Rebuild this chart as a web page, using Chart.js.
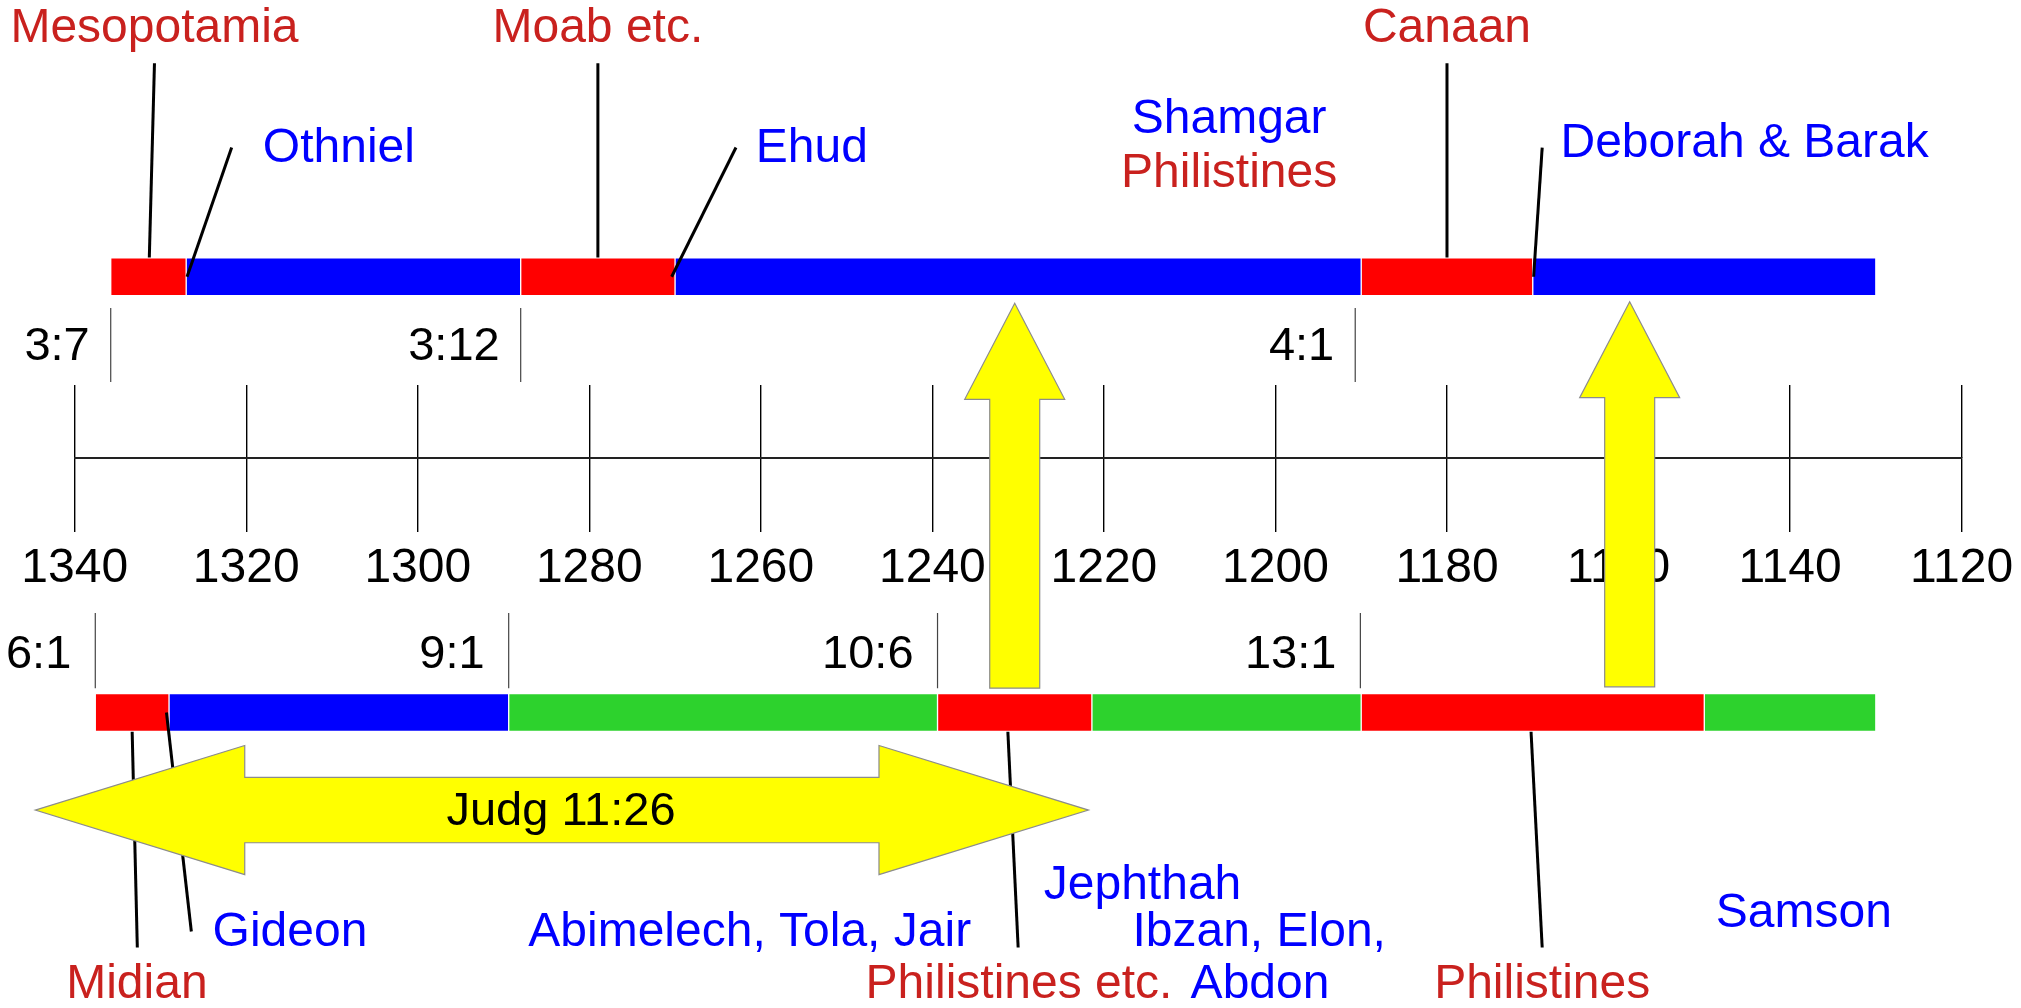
<!DOCTYPE html>
<html lang="en"><head>
<meta charset="utf-8">
<title>Judges timeline</title>
<style type="text/css">
body { margin:0; background:#ffffff; }
#wrap { width:2021px; height:1008px; }
</style>
<script src="https://cdn.jsdelivr.net/npm/chart.js@4"></script>
<script>
// timeline scale (years BC, drawn right to left)
const yearMin=1120, yearMax=1340, yearStep=20;

// bar rows: boundaries of each period and its kind
const topBounds=[1335.8,1327,1288,1270,1190,1170,1130];
const topKinds=['opp','judge','opp','judge','opp','judge'];
const bottomBounds=[1337.6,1329,1289.4,1239.4,1221.4,1190,1150,1130];
const bottomKinds=['opp','judge','minor','opp','minor','opp','minor'];
const rowLevel={top:3.96,bottom:-5.55};

// verse references
const topVerses=['3:7','3:12','4:1'];
const topVerseYears=[1335.8,1288,1190.7];
const bottomVerses=['6:1','9:1','10:6','13:1'];
const bottomVerseYears=[1337.6,1289.4,1239.4,1190.1];
const verseSpanTop=[3.28,1.66], verseSpanBottom=[-3.38,-5.02];
const verseLevelTop=2.45, verseLevelBottom=-4.27;

// names
const noteText=['Mesopotamia','Moab etc.','Canaan','Othniel','Ehud','Shamgar','Philistines','Deborah & Barak',
  'Gideon','Abimelech, Tola, Jair','Ibzan, Elon,','Midian','Philistines etc.','Abdon','Philistines','Jephthah','Samson','Judg 11:26'];
const noteYear=[1330.7,1279.0,1180.0,1309.2,1254.05,1205.4,1205.4,1145.3,
  1314.9,1261.3,1201.9,1332.75,1229.9,1201.8,1168.9,1215.5,1138.4,1283.3];
const noteLevel=[9.42,9.42,9.42,6.8,6.8,7.44,6.26,6.91,
  -10.31,-10.31,-10.31,-11.46,-11.46,-11.46,-11.46,-9.28,-9.89,-7.68];
const noteKind=['opp','opp','opp','judge','judge','judge','opp','judge',
  'judge','judge','judge','opp','opp','judge','opp','judge','judge','ref'];

// leader lines [year,level]
const leaderFrom=[[1330.7,8.62],[1279.0,8.62],[1180.0,8.62],[1321.7,6.78],[1262.9,6.78],[1168.9,6.78],
  [1329.3,-5.55],[1333.3,-5.97],[1231.2,-5.97],[1170.2,-5.97]];
const leaderTo=[[1331.3,4.38],[1279.0,4.38],[1180.0,4.38],[1326.9,3.96],[1270.4,3.96],[1169.9,3.96],
  [1326.4,-10.33],[1332.7,-10.68],[1230.0,-10.68],[1168.9,-10.68]];

// yellow arrows
const upArrowYears=[1230.4,1158.7];
const upArrowTips=[3.38,3.415];
const upArrowTails=[-5.02,-4.99];
const spanArrowYears=[1344.6,1221.8];
const spanArrowLevel=-7.68;

const barColor={opp:'#ff0000',judge:'#0000ff',minor:'#2dd22d'};
const textColor={opp:'#c9211e',judge:'#0000ff',ref:'#000000'};
const FONT='"Liberation Sans", Arial, sans-serif';

function rowData(bounds,level) {
  let out=[];
  for (let i=0;i<bounds.length-1;i++) out.push({x:[bounds[i],bounds[i+1]],y:level});
  return out; }

function lineSet(a,b,color,width) {
  return {type:'line',data:[{x:a[0],y:a[1]},{x:b[0],y:b[1]}],borderColor:color,borderWidth:width,
    pointRadius:0,fill:false,clip:false,order:1}; }

const drawExtras={id:'drawExtras',afterDatasetsDraw(chart) {
  const ctx=chart.ctx, xs=chart.scales.x, ys=chart.scales.y;
  const px=v=>xs.getPixelForValue(v), py=v=>ys.getPixelForValue(v);
  ctx.save();
  ctx.fillStyle='#ffff00'; ctx.strokeStyle='#8c8c8c'; ctx.lineWidth=1.2; ctx.lineJoin='miter';
  // up arrows
  const hl=96, hw=50, sw=25;
  upArrowYears.forEach((yr,i)=>{
    const x=px(yr), t=py(upArrowTips[i]), b=py(upArrowTails[i]);
    ctx.beginPath(); ctx.moveTo(x,t);
    ctx.lineTo(x+hw,t+hl); ctx.lineTo(x+sw,t+hl); ctx.lineTo(x+sw,b);
    ctx.lineTo(x-sw,b); ctx.lineTo(x-sw,t+hl); ctx.lineTo(x-hw,t+hl);
    ctx.closePath(); ctx.fill(); ctx.stroke(); });
  // double arrow
  const l=px(spanArrowYears[0]), r=px(spanArrowYears[1]), c=py(spanArrowLevel);
  const al=209.5, ah=64.6, sh=32.7;
  ctx.beginPath(); ctx.moveTo(l,c);
  ctx.lineTo(l+al,c-ah); ctx.lineTo(l+al,c-sh); ctx.lineTo(r-al,c-sh); ctx.lineTo(r-al,c-ah);
  ctx.lineTo(r,c); ctx.lineTo(r-al,c+ah); ctx.lineTo(r-al,c+sh); ctx.lineTo(l+al,c+sh); ctx.lineTo(l+al,c+ah);
  ctx.closePath(); ctx.fill(); ctx.stroke();
  // names
  ctx.textBaseline='middle'; ctx.textAlign='center';
  noteText.forEach((t,i)=>{
    ctx.font=(noteKind[i]=='ref'?'47px ':'48px ')+FONT;
    ctx.fillStyle=textColor[noteKind[i]];
    ctx.fillText(t,px(noteYear[i]),py(noteLevel[i])+2); });
  // verse numbers
  ctx.textAlign='right'; ctx.fillStyle='#000'; ctx.font='47px '+FONT;
  topVerses.forEach((t,i)=>ctx.fillText(t,px(topVerseYears[i])-21,py(verseLevelTop)+1));
  bottomVerses.forEach((t,i)=>ctx.fillText(t,px(bottomVerseYears[i])-24,py(verseLevelBottom)+1));
  ctx.restore(); }};

function initChart() {
  Chart.defaults.font.family=FONT;
  let sets=[];
  sets.push({type:'bar',indexAxis:'y',data:rowData(topBounds,rowLevel.top),
    backgroundColor:topKinds.map(k=>barColor[k]),borderColor:'rgba(255,255,255,0.55)',borderWidth:1,borderSkipped:false,
    barThickness:38,grouped:false,clip:false,order:2});
  sets.push({type:'bar',indexAxis:'y',data:rowData(bottomBounds,rowLevel.bottom),
    backgroundColor:bottomKinds.map(k=>barColor[k]),borderColor:'rgba(255,255,255,0.55)',borderWidth:1,borderSkipped:false,
    barThickness:38,grouped:false,clip:false,order:2});
  topVerseYears.forEach(yr=>sets.push(lineSet([yr,verseSpanTop[0]],[yr,verseSpanTop[1]],'#444',1.2)));
  bottomVerseYears.forEach(yr=>sets.push(lineSet([yr,verseSpanBottom[0]],[yr,verseSpanBottom[1]],'#444',1.2)));
  leaderFrom.forEach((p,i)=>sets.push(lineSet(p,leaderTo[i],'#000',3)));

  const xCommon={type:'linear',axis:'x',position:{y:0},min:yearMin,max:yearMax,reverse:true,beginAtZero:false,
    afterFit:s=>{s.paddingLeft=0; s.paddingRight=0;}};
  new Chart(document.getElementById('myChart'),{type:'scatter',data:{datasets:sets},
    options:{responsive:false,animation:false,devicePixelRatio:1,
      layout:{padding:{left:74.7,right:59.4,top:0,bottom:0}},
      plugins:{legend:{display:false},tooltip:{enabled:false},title:{display:false}},
      scales:{
        x:Object.assign({},xCommon,{
          ticks:{stepSize:yearStep,autoSkip:false,maxRotation:0,padding:9,color:'#000',font:{size:48},
            callback:v=>String(v)},
          grid:{drawOnChartArea:false,drawTicks:true,tickLength:73,color:'#000',lineWidth:1.4},
          border:{display:true,color:'#222',width:2}}),
        x2:Object.assign({},xCommon,{
          ticks:{stepSize:yearStep,display:false},
          grid:{drawOnChartArea:false,drawTicks:true,tickLength:-73,color:'#000',lineWidth:1.4},
          border:{display:false}}),
        y:{type:'linear',min:-12,max:10,display:false,offset:false,grid:{offset:false}}}},
    plugins:[drawExtras]}); }
</script></head>
<body onload="initChart();">
<div id="wrap"><canvas id="myChart" width="2021" height="1008"></canvas></div>
</body></html>
